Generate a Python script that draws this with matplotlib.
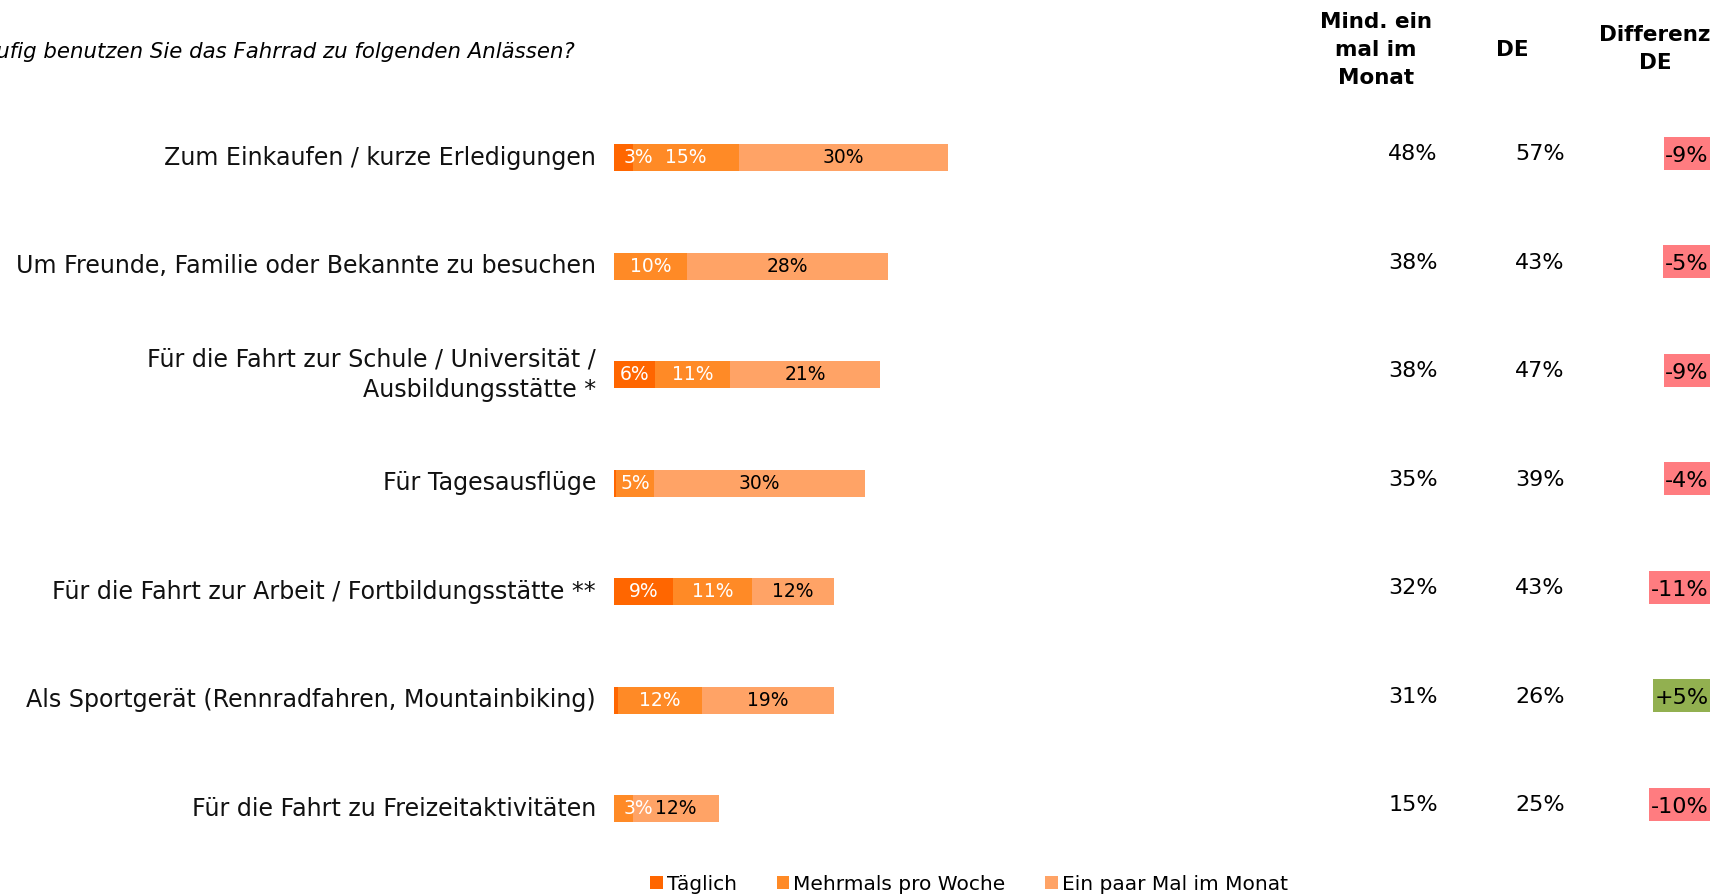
import numpy as np
import matplotlib
matplotlib.use('Agg')
import matplotlib.pyplot as plt
from matplotlib.patches import Patch, Rectangle
import matplotlib.transforms as mtransforms

# data (bar widths in %, labels as printed)
categories = [
    "Zum Einkaufen / kurze Erledigungen",
    "Um Freunde, Familie oder Bekannte zu besuchen",
    "Für die Fahrt zur Schule / Universität /\nAusbildungsstätte *",
    "Für Tagesausflüge",
    "Für die Fahrt zur Arbeit / Fortbildungsstätte **",
    "Als Sportgerät (Rennradfahren, Mountainbiking)",
    "Für die Fahrt zu Freizeitaktivitäten",
]
taeglich  = [2.7, 0.0, 5.9, 0.3, 8.5, 0.6, 0.0]
mehrmals  = [15.2, 10.5, 10.7, 5.4, 11.3, 12.0, 2.7]
paar_mal  = [30.0, 28.8, 21.5, 30.2, 11.7, 18.9, 12.3]

taeglich_labels = ["3%", "", "6%", "", "9%", "", ""]
mehrmals_labels = ["15%", "10%", "11%", "5%", "11%", "12%", "3%"]
paar_mal_labels = ["30%", "28%", "21%", "30%", "12%", "19%", "12%"]

mind_monat = ["48%", "38%", "38%", "35%", "32%", "31%", "15%"]
de_values  = ["57%", "43%", "47%", "39%", "43%", "26%", "25%"]
diff_de    = [-9, -5, -9, -4, -11, 5, -10]

series_names = ["Täglich", "Mehrmals pro Woche", "Ein paar Mal im Monat"]
series_colors = ["#FF6600", "#FF8A26", "#FFA366"]
label_colors = ["white", "white", "black"]

W, H = 1727, 894
fig = plt.figure(figsize=(W / 100, H / 100), dpi=100)

# bar area: left edge at 614 px, 6.98 px per percent
x0 = 614
px_per_pct = 6.98
top_px, bot_px = 103.5, 863
ax = fig.add_axes([x0 / W, 1 - bot_px / H, 100 * px_per_pct / W, (bot_px - top_px) / H])
ax.set_xlim(0, 100)
ax.set_ylim(len(categories) - 0.5, -0.5)
ax.axis('off')

y = np.arange(len(categories))
bar_h = 0.25
left = np.zeros(len(categories))
series = [taeglich, mehrmals, paar_mal]
series_labels = [taeglich_labels, mehrmals_labels, paar_mal_labels]
for vals, labs, col, tcol, name in zip(series, series_labels, series_colors, label_colors, series_names):
    vals = np.array(vals, dtype=float)
    ax.barh(y, vals, left=left, height=bar_h, color=col, edgecolor='none', label=name)
    for i, (v, lab) in enumerate(zip(vals, labs)):
        if not lab:
            continue
        if v < 4:
            ax.text(left[i] + 1.3, y[i], lab, ha='left', va='center',
                    color=tcol, fontsize=13.5)
        else:
            ax.text(left[i] + v / 2, y[i], lab, ha='center', va='center',
                    color=tcol, fontsize=13.5)
    left += vals

# category labels, right aligned at 596 px
for yi, cat in zip(y, categories):
    ax.text(-(x0 - 596) / px_per_pct, yi, cat, ha='right', va='center',
            fontsize=17.1, linespacing=1.35, color='#111111')

# value columns (x in figure pixels, y in data)
trans = mtransforms.blended_transform_factory(fig.transFigure, ax.transData)
diff_texts = []
for yi, m, d, diff in zip(y, mind_monat, de_values, diff_de):
    ax.text(1413 / W, yi - 0.03, m, transform=trans, ha='center', va='center', fontsize=16)
    ax.text(1540 / W, yi - 0.03, d, transform=trans, ha='center', va='center', fontsize=16)
    t = ax.text(1688 / W, yi - 0.02, f"{diff:+d}%", transform=trans, ha='center',
                va='center', fontsize=16, zorder=4, clip_on=False)
    diff_texts.append((t, diff))

# coloured boxes behind the differences, right edge at 1710 px, 33 px tall
renderer = fig.canvas.get_renderer()
for t, diff in diff_texts:
    bb = t.get_window_extent(renderer)
    bw = bb.width + 3
    cy = (bb.y0 + bb.y1) / 2 + 2.5
    box = "#FF7C80" if diff < 0 else "#92B050"
    ax.add_patch(Rectangle(((1710 - bw) / W, (cy - 16.5) / H), bw / W, 33 / H,
                           transform=fig.transFigure, fc=box, ec='none',
                           zorder=3, clip_on=False))
    t.set_x((1710 - bw / 2) / W)

# column headers
fig.text(1376 / W, 1 - 50 / H, "Mind. ein\nmal im\nMonat", ha='center', va='center',
         fontsize=15.5, fontweight='bold', linespacing=1.5)
fig.text(1512 / W, 1 - 50 / H, "DE", ha='center', va='center',
         fontsize=15.5, fontweight='bold')
fig.text(1655 / W, 1 - 49 / H, "Differenz\nDE", ha='center', va='center',
         fontsize=15.5, fontweight='bold', linespacing=1.5)

# question, cut off at the left edge like the reference
fig.text(575 / W, 1 - 52 / H, "Wie häufig benutzen Sie das Fahrrad zu folgenden Anlässen?",
         ha='right', va='center', fontsize=15.3, style='italic')

handles = [Patch(facecolor=c, edgecolor='none', label=n) for c, n in zip(series_colors, series_names)]
fig.legend(handles=handles, loc='center', bbox_to_anchor=(969 / W, 1 - 884 / H), ncol=3,
           frameon=False, fontsize=14.5, handlelength=0.6, handleheight=0.6,
           handletextpad=0.2, columnspacing=2.0, borderaxespad=0)

fig.savefig("out.png", dpi=100, facecolor='white')
